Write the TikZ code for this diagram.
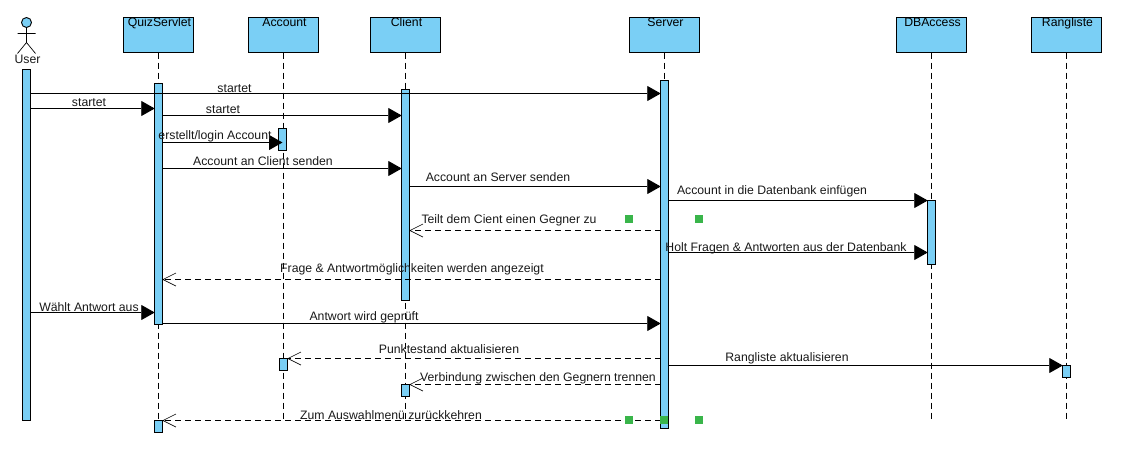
\documentclass[tikz,border=0pt]{standalone}
\usepackage{fontspec}
\setmainfont{Liberation Sans}
\usetikzlibrary{arrows.meta}
\definecolor{umlblue}{HTML}{7ACFF5}
\definecolor{umlgreen}{HTML}{39B54A}
\tikzset{
  x=1pt,y=-1pt,
  every node/.style={font=\fontsize{12.25}{14}\selectfont},
  head/.style={draw=black,fill=umlblue,line width=.9pt,outer sep=0pt,minimum width=70pt,anchor=north,inner sep=0pt,text height=9.5pt,text depth=25.5pt,execute at begin node={\hspace*{2pt}}},
  bar/.style={draw=black,fill=umlblue,line width=.9pt,outer sep=0pt,minimum width=7.5pt,inner sep=0pt,anchor=north},
  lifeline/.style={line width=.9pt,dash pattern=on 6pt off 4pt},
  sync/.style={line width=.9pt,-{Triangle[length=13.5pt,width=15pt]}},
  reply/.style={line width=.9pt,dash pattern=on 6pt off 4pt,-{Straight Barb[length=13pt,width=13pt,line width=.6pt]}},
  msg/.style={inner sep=0pt,text=black!90,yshift=-.7pt},
  handle/.style={fill=umlgreen,draw=none,minimum size=8pt,inner sep=0pt},
}
\newcommand{\msgline}[4]{\draw[#1] (#2 |- 0,#4) -- (#3 |- 0,#4);}
\begin{document}
\begin{tikzpicture}
\useasboundingbox (0,0) rectangle (1127,471);
% heads
\node[head] (hq) at (158.5,17.5) {QuizServlet};
\node[head] (ha) at (283.5,17.5) {Account};
\node[head] (hc) at (405.5,17.5) {Client};
\node[head] (hs) at (664.5,17.5) {Server};
\node[head] (hd) at (931.5,17.5) {DBAccess};
\node[head] (hr) at (1066.5,17.5) {Rangliste};
% lifeline ends
\coordinate (eq) at (158.5,420);
\coordinate (ea) at (283.5,420);
\coordinate (ec) at (405.5,420);
\coordinate (es) at (664.5,420);
\coordinate (ed) at (931.5,420);
\coordinate (er) at (1066.5,420);
\draw[lifeline] (hq.south) -- (eq);
\draw[lifeline] (ha.south) -- (ea);
\draw[lifeline] (hc.south) -- (ec);
\draw[lifeline] (hs.south) -- (es);
\draw[lifeline] (hd.south) -- (ed);
\draw[lifeline] (hr.south) -- (er);
% actor
\coordinate (neck) at (26.5,27.5);
\coordinate (hip) at (26.5,42.5);
\coordinate (armL) at (17.5,33.5);
\coordinate (armR) at (35.5,33.5);
\coordinate (legL) at (17.5,53.5);
\coordinate (legR) at (35.5,53.5);
\draw[line width=.7pt] (neck) -- (hip) (armL) -- (armR) (legL) -- (hip) -- (legR);
\node[draw=black,fill=umlblue,circle,line width=.9pt,outer sep=0pt,minimum size=10pt,inner sep=0pt] (uhead) at (26.5,22.5) {};
\node[msg] (ulab) at (27.5,58.5) {User};
% activation bars
\node[bar,minimum height=351pt] (bu) at (26.5,69.5) {};
\node[bar,minimum height=240.5pt] (bq) at (158.5,83.5) {};
\node[bar,minimum height=11.5pt] (bq2) at (158.5,420.5) {};
\node[bar,minimum height=22pt] (ba) at (282.5,128.5) {};
\node[bar,minimum height=12pt] (ba2) at (283.5,358.5) {};
\node[bar,minimum height=211pt] (bc) at (405.5,89.5) {};
\node[bar,minimum height=12pt] (bc2) at (405.5,384.5) {};
\node[bar,minimum height=347.5pt] (bs) at (664.5,80.5) {};
\node[bar,minimum height=64pt] (bd) at (931.5,200.5) {};
\node[bar,minimum height=12pt] (br) at (1066.5,365.5) {};
% messages
\msgline{sync}{bu.east}{bs.west}{93.5}
\msgline{sync}{bu.east}{bq.west}{108.5}
\msgline{sync}{bq.east}{bc.west}{115.5}
\msgline{sync}{bq.east}{ba.center}{142.5}
\msgline{sync}{bq.east}{bc.west}{168.5}
\msgline{sync}{bc.east}{bs.west}{186.5}
\msgline{sync}{bs.east}{bd.west}{200.5}
\msgline{reply}{bs.west}{bc.east}{230.5}
\msgline{sync}{bs.east}{bd.west}{252.5}
\msgline{reply}{bs.west}{bq.east}{279.5}
\msgline{sync}{bu.east}{bq.west}{312.5}
\msgline{sync}{bq.east}{bs.west}{323.5}
\msgline{reply}{bs.west}{ba2.east}{358.5}
\msgline{sync}{bs.east}{br.west}{365.5}
\msgline{reply}{bs.west}{bc2.east}{384.5}
\msgline{reply}{bs.west}{bq2.east}{420.5}
% labels
\node[msg] (m1) at (234.5,88) {startet};
\node[msg] (m2) at (89,102) {startet};
\node[msg] (m3) at (223,108.5) {startet};
\node[msg] (m4) at (215,136) {erstellt/login Account};
\node[msg] (m5) at (263,160) {Account an Client senden};
\node[msg] (m6) at (498,176.5) {Account an Server senden};
\node[msg] (m7) at (772,190.5) {Account in die Datenbank einfügen};
\node[msg] (m8) at (509,220) {Teilt dem Cient einen Gegner zu};
\node[msg] (m9) at (786,248) {Holt Fragen \& Antworten aus der Datenbank};
\node[msg] (m10) at (412,269) {Frage \& Antwortmöglichkeiten werden angezeigt};
\node[msg] (m11) at (89,306) {Wählt Antwort aus};
\node[msg] (m12) at (364,316.5) {Antwort wird geprüft};
\node[msg] (m13) at (449,348.5) {Punktestand aktualisieren};
\node[msg] (m14) at (787,357.5) {Rangliste aktualisieren};
\node[msg] (m15) at (538,378) {Verbindung zwischen den Gegnern trennen};
\node[msg] (m16) at (391,414) {Zum Auswahlmenü zurückkehren};
% selection handles
\node[handle] (g1) at (629,219) {};
\node[handle] (g2) at (699,219) {};
\node[handle] (g3) at (629,420) {};
\node[handle] (g4) at (664,420) {};
\node[handle] (g5) at (699,420) {};
\end{tikzpicture}
\end{document}
